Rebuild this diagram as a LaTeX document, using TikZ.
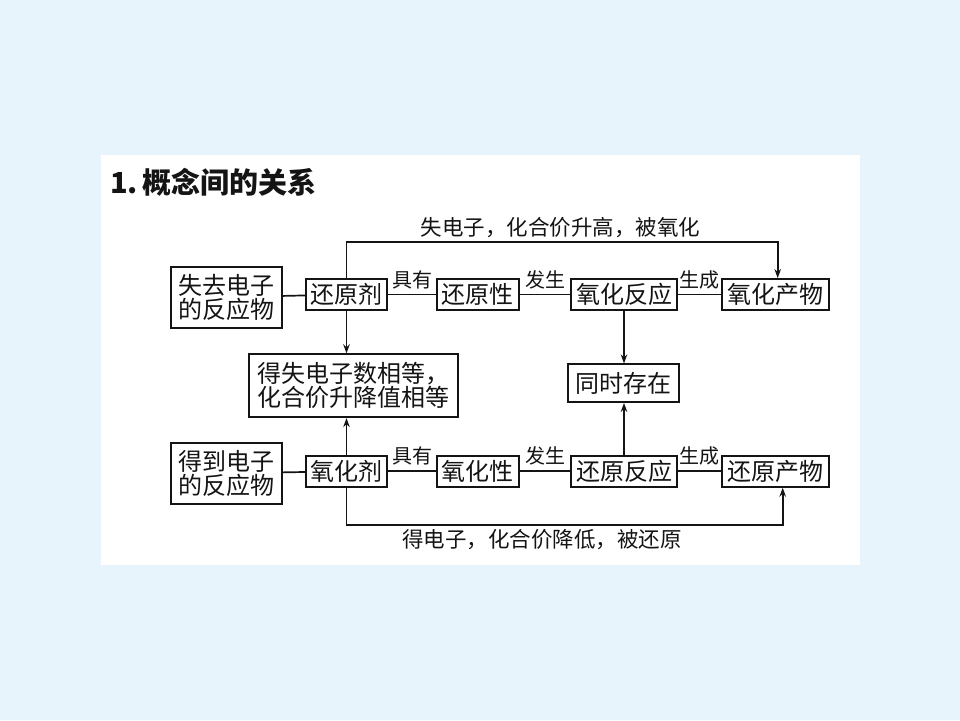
\documentclass[tikz,border=0pt]{standalone}
\usepackage{fontspec}
\setmainfont{Noto Sans CJK SC}
\usetikzlibrary{arrows.meta}
\definecolor{bgblue}{RGB}{232,244,252}
\definecolor{ink}{RGB}{20,20,20}
\tikzset{
  box/.style={draw=ink,line width=1.8pt,inner sep=0pt,align=center,font=\fontsize{24}{28}\selectfont,text=ink},
  lbl/.style={inner sep=0pt,font=\fontsize{20}{22}\selectfont,text=ink},
  longlbl/.style={inner sep=0pt,font=\fontsize{21.5}{24}\selectfont,text=ink},
  con/.style={draw=ink,line width=1.7pt},
  arr/.style={con,-{Stealth[length=9pt,width=6.5pt]}}
}
\begin{document}
\begin{tikzpicture}[x=1pt,y=-1pt]
\fill[bgblue] (0,0) rectangle (960,720);
\useasboundingbox (0,0) rectangle (960,720);
\fill[white] (101,155) rectangle (860,565);
\node[anchor=west,inner sep=0pt,font=\fontsize{29}{32}\selectfont\bfseries,text=ink] (title) at (110,182) {1.\,概念间的关系};
% top row
\node[box,minimum width=111pt,minimum height=61pt] (r1) at (226.2,297.2) {失去电子\\[-4pt]的反应物};
\node[box,minimum width=81pt,minimum height=31pt] (hyj) at (346.5,294.5) {还原剂};
\node[box,minimum width=82pt,minimum height=31pt] (hyx) at (477.7,294.5) {还原性};
\node[box,minimum width=106.6pt,minimum height=31pt] (yhfy) at (624,294.5) {氧化反应};
\node[box,minimum width=106.7pt,minimum height=31pt] (yhcw) at (775.3,294.5) {氧化产物};
% middle
\node[box,minimum width=209pt,minimum height=63pt] (dsh) at (353.6,385.7) {得失电子数相等，\\[-4pt]化合价升降值相等};
\node[box,minimum width=111.6pt,minimum height=37.7pt] (tscz) at (623.5,383.2) {同时存在};
% bottom row
\node[box,minimum width=111pt,minimum height=61pt] (r2) at (226.2,473.3) {得到电子\\[-4pt]的反应物};
\node[box,minimum width=81pt,minimum height=31pt] (yhj) at (346.5,471.3) {氧化剂};
\node[box,minimum width=82pt,minimum height=31pt] (yhx) at (477.7,471.3) {氧化性};
\node[box,minimum width=106.6pt,minimum height=31pt] (hyfy) at (624,471.3) {还原反应};
\node[box,minimum width=106.7pt,minimum height=31pt] (hycw) at (775.3,471.3) {还原产物};
% connectors top row
\draw[con] (r1) -- (hyj);
\draw[con] (hyj) -- (hyx);
\draw[con] (hyx) -- (yhfy);
\draw[con] (yhfy) -- (yhcw);
\node[lbl] (l1) at (412,280) {具有};
\node[lbl] (l2) at (545.5,280) {发生};
\node[lbl] (l3) at (699.5,280) {生成};
% connectors bottom row
\draw[con] (r2) -- (yhj);
\draw[con] (yhj) -- (yhx);
\draw[con] (yhx) -- (hyfy);
\draw[con] (hyfy) -- (hycw);
\node[lbl] (l4) at (412,456) {具有};
\node[lbl] (l5) at (545.5,456) {发生};
\node[lbl] (l6) at (699.5,456) {生成};
% vertical arrows
\draw[arr] (hyj.south) -- (hyj.south |- dsh.north);
\draw[arr] (yhj.north) -- (yhj.north |- dsh.south);
\draw[arr] (yhfy.south) -- (yhfy.south |- tscz.north);
\draw[arr] (hyfy.north) -- (hyfy.north |- tscz.south);
% loops
\coordinate (t1) at (346.5,241.7);
\coordinate (t2) at (777.7,241.7);
\draw[arr] (hyj.north) -- (t1) -- (t2) -- (t2 |- yhcw.north);
\node[longlbl] (ltop) at (560.5,228) {失电子，化合价升高，被氧化};
\coordinate (b1) at (346.5,525);
\coordinate (b2) at (782.7,525);
\draw[arr] (yhj.south) -- (b1) -- (b2) -- (b2 |- hycw.south);
\node[longlbl] (lbot) at (542,540) {得电子，化合价降低，被还原};
\end{tikzpicture}
\end{document}
